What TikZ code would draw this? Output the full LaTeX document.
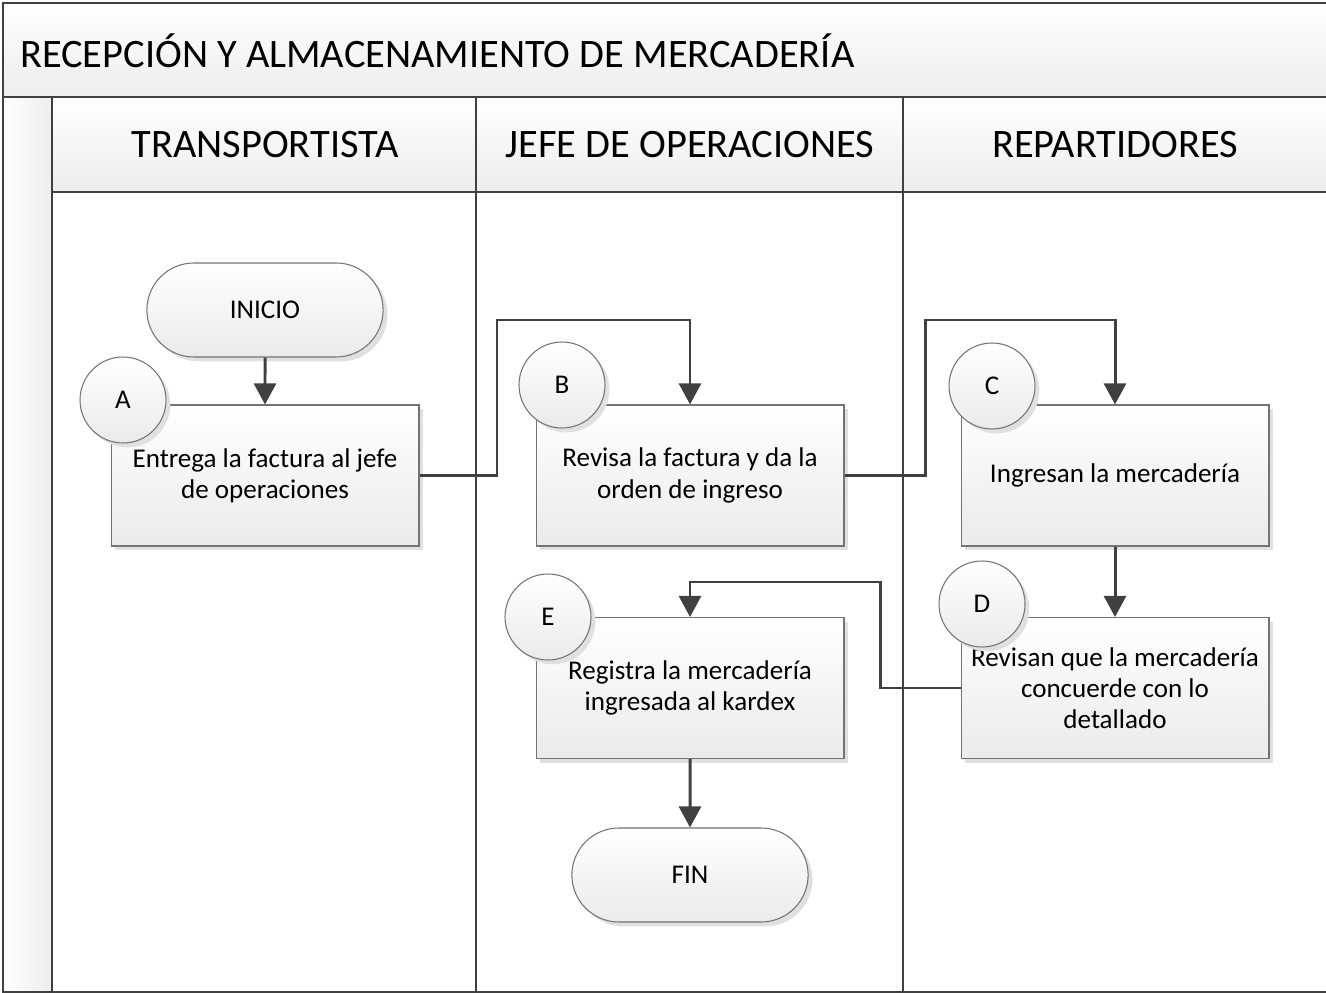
\documentclass[tikz,border=0pt]{standalone}
\usepackage{fontspec}
\setmainfont{Carlito}
\usetikzlibrary{arrows.meta,shadows,shapes.misc}

\begin{document}
\begin{tikzpicture}[x=0.02cm, y=-0.02cm,
    lane/.style={draw=black!75, line width=1.5pt},
    band/.style={top color=white, bottom color=black!7},
    paso/.style={
        draw=black!55,
        line width=0.6pt,
        top color=white,
        bottom color=black!8,
        drop shadow={shadow xshift=2.5pt, shadow yshift=-2.5pt, fill=black!12, opacity=1},
        minimum width=6.16cm,
        minimum height=2.82cm,
        align=center,
        font=\fontsize{15.4}{17.8}\selectfont},
    letra/.style={paso, circle, minimum width=1.72cm, minimum height=1.72cm, inner sep=0pt},
    terminal/.style={paso, rounded rectangle, minimum width=4.96cm, minimum height=1.88cm},
    cabecera/.style={font=\fontsize{23}{27}\selectfont},
    flecha/.style={draw=black!75, line width=1.7pt, -{Triangle[length=12pt,width=12.5pt]}}]

    \clip (0,0) rectangle (1326,993);

    % marco y carriles
    \path[band] (3,3) rectangle (1340,97);
    \path[band] (52,97) rectangle (1340,192);
    \path[left color=white, right color=black!7] (3,97) rectangle (52,992);
    \draw[lane] (1340,3) -- (3,3) -- (3,992) -- (1340,992);
    \draw[lane] (3,97) -- (1340,97);
    \draw[lane] (52,192) -- (1340,192);
    \draw[lane] (52,97) -- (52,992);
    \draw[lane] (476,97) -- (476,992);
    \draw[lane] (903,97) -- (903,992);

    \node[cabecera, anchor=west] (titulo) at (14,51) {RECEPCIÓN Y ALMACENAMIENTO DE MERCADERÍA};
    \node[cabecera] (transp) at (265,145) {TRANSPORTISTA};
    \node[cabecera] (jefe) at (690,145) {JEFE DE OPERACIONES};
    \node[cabecera] (repart) at (1115,145) {REPARTIDORES};

    % pasos
    \node[terminal] (inicio) at (265,310) {INICIO};
    \node[paso] (a) at (265,475.5) {Entrega la factura al jefe\\de operaciones};
    \node[paso] (b) at (690,475.5) {Revisa la factura y da la\\orden de ingreso};
    \node[paso] (c) at (1115,475.5) {Ingresan la mercadería};
    \node[paso] (d) at (1115,688) {Revisan que la mercadería\\concuerde con lo\\detallado};
    \node[paso] (e) at (690,688) {Registra la mercadería\\ingresada al kardex};
    \node[terminal] (fin) at (690,875) {FIN};

    \node[letra] (la) at (123,400) {A};
    \node[letra] (lb) at (562,385) {B};
    \node[letra] (lc) at (992,386) {C};
    \node[letra] (ld) at (982,604) {D};
    \node[letra] (le) at (548,617) {E};

    % flujo
    \draw[flecha] (inicio) -- (a);
    \draw[flecha] (a.east) -| (497,320) -| (b.north);
    \draw[flecha] (b.east) -| (925,320) -| (c.north);
    \draw[flecha] (c) -- (d);
    \draw[flecha] (d.west) -| (880,582) -| (e.north);
    \draw[flecha] (e) -- (fin);
\end{tikzpicture}
\end{document}
